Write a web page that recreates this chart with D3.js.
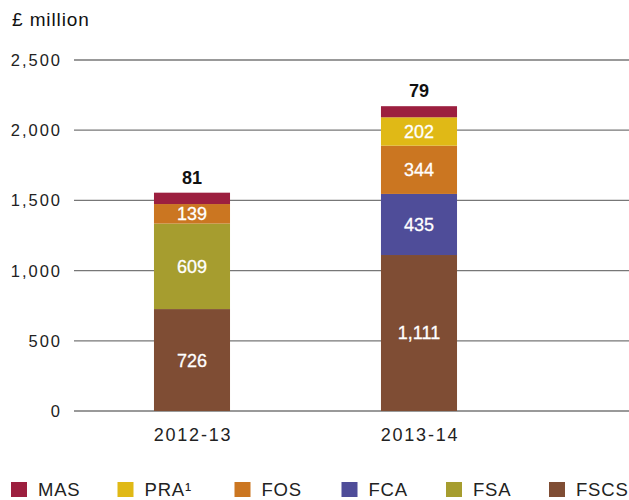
<!DOCTYPE html>
<html><head><meta charset="utf-8">
<script src="https://cdn.jsdelivr.net/npm/d3@7"></script>
<style>body{margin:0;background:#fff}svg{display:block;font-family:"Liberation Sans",Arial,Helvetica,sans-serif}</style>
</head><body><svg id="c" width="629" height="500"></svg>
<script>
const categories = ["2012-13", "2013-14"];
const seriesNames = ["FSCS", "FSA", "FCA", "FOS", "PRA¹", "MAS"];
const FSCS = [726, 1111];
const FSA = [609, 0];
const FCA = [0, 435];
const FOS = [139, 344];
const PRA = [0, 202];
const MAS = [81, 79];
const yTicks = [0, 500, 1000, 1500, 2000, 2500];
const legendOrder = ["MAS", "PRA¹", "FOS", "FCA", "FSA", "FSCS"];
const colors = {"MAS":"#9c1f3f","PRA¹":"#e0b916","FOS":"#cb7621","FCA":"#4f4d99","FSA":"#a69d2f","FSCS":"#7f4d34"};

const seriesVals = {"FSCS":FSCS,"FSA":FSA,"FCA":FCA,"FOS":FOS,"PRA¹":PRA,"MAS":MAS};
const svg = d3.select("#c");
const y = d3.scaleLinear().domain([0,2500]).range([411,60]);
const x = d3.scaleBand().domain(categories).range([78.5,532.5]).paddingInner(0.665).paddingOuter(0.3325);

// title
svg.append("text").attr("x",12).attr("y",26).attr("font-size",19).attr("letter-spacing",0.9).attr("fill","#111").text("£ million");

// grid + ticks
const g = svg.append("g");
yTicks.forEach(t=>{
  g.append("line").attr("x1",74).attr("x2",629).attr("y1",y(t)).attr("y2",y(t)).attr("stroke","#777").attr("stroke-width",1.3);
  g.append("text").attr("x",62).attr("y",y(t)).attr("dy","0.36em").attr("text-anchor","end").attr("font-size",16.5).attr("letter-spacing",2).attr("fill","#222").text(d3.format(",")(t));
});

// stacks
const rows = categories.map((c,i)=>{const r={cat:c}; seriesNames.forEach(s=>r[s]=seriesVals[s][i]); return r;});
const stack = d3.stack().keys(seriesNames)(rows);
stack.forEach(layer=>{
  const key = layer.key;
  layer.forEach((d,i)=>{
    const v = d[1]-d[0];
    if(v<=0) return;
    const cat = categories[i];
    svg.append("rect").attr("x",x(cat)).attr("width",x.bandwidth())
      .attr("y",y(d[1])).attr("height",y(d[0])-y(d[1])).attr("fill",colors[key]);
    if(key==="MAS"){
      svg.append("text").attr("x",x(cat)+x.bandwidth()/2).attr("y",y(d[1])-9)
        .attr("text-anchor","middle").attr("font-size",18).attr("font-weight","bold").attr("fill","#111").text(d3.format(",")(v));
    } else {
      svg.append("text").attr("x",x(cat)+x.bandwidth()/2).attr("y",(y(d[0])+y(d[1]))/2).attr("dy","0.36em")
        .attr("text-anchor","middle").attr("font-size",18).attr("fill","#fff").attr("stroke","#fff").attr("stroke-width",0.3).text(d3.format(",")(v));
    }
  });
});

// x labels
categories.forEach(c=>{
  svg.append("text").attr("x",x(c)+x.bandwidth()/2+1).attr("y",441).attr("text-anchor","middle").attr("font-size",18).attr("letter-spacing",1.8).attr("fill","#222").text(c);
});

// legend
const legX = [11, 117.5, 234.5, 341.5, 446, 549];
legendOrder.forEach((k,i)=>{
  svg.append("rect").attr("x",legX[i]).attr("y",482).attr("width",16).attr("height",15).attr("fill",colors[k]);
  svg.append("text").attr("x",legX[i]+27).attr("y",496).attr("font-size",18.5).attr("letter-spacing",0.8).attr("fill","#222").text(k);
});
</script></body></html>
